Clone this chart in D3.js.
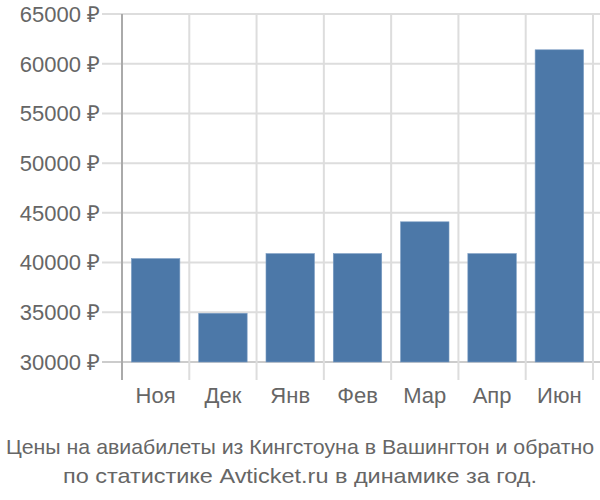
<!DOCTYPE html>
<html><head><meta charset="utf-8">
<script src="https://cdn.jsdelivr.net/npm/d3@7"></script>
<style>body{margin:0;background:#fff}</style>
</head><body>
<svg id="c" width="600" height="500"></svg>
<script>
const categories = ["Ноя","Дек","Янв","Фев","Мар","Апр","Июн"];
const values = [40400, 34900, 40900, 40900, 44100, 40900, 61400];
const yTicks = [30000,35000,40000,45000,50000,55000,60000,65000];
const titleLines = ["Цены на авиабилеты из Кингстоуна в Вашингтон и обратно","по статистике Avticket.ru в динамике за год."];

(function(){
const svg = d3.select("#c");
const pL = 122, pR = 593, pT = 14, pB = 362;
const y = d3.scaleLinear().domain([30000,65000]).range([pB, pT]);
const xg = d3.scaleBand().domain(categories).range([pL,pR]).padding(0);
const xb = d3.scaleBand().domain(categories).range([pL,pR]).paddingInner(0.28).paddingOuter(0.14);

svg.append("g").selectAll("line").data(yTicks).join("line")
  .attr("x1",102).attr("x2",600).attr("y1",d=>y(d)).attr("y2",d=>y(d))
  .attr("stroke",d=>d===30000?"#ccc":"#ddd").attr("stroke-width",2);
const vx = categories.map(c=>xg(c)).concat([pR]);
svg.append("g").selectAll("line").data(vx.slice(1)).join("line")
  .attr("x1",d=>d).attr("x2",d=>d).attr("y1",pT).attr("y2",380)
  .attr("stroke","#ddd").attr("stroke-width",2);
svg.append("line").attr("x1",pL).attr("x2",pL).attr("y1",pT).attr("y2",380)
  .attr("stroke","#aaa").attr("stroke-width",2);

svg.append("g").selectAll("rect").data(values).join("rect")
  .attr("x",(d,i)=>xb(categories[i])).attr("width",xb.bandwidth())
  .attr("y",d=>y(d)).attr("height",d=>pB-y(d))
  .attr("fill","#4c78a8").attr("stroke","#7a9cc2").attr("stroke-width",0.6);

svg.append("g").selectAll("text").data(yTicks).join("text")
  .attr("x",100).attr("y",d=>y(d)).attr("dy","0.36em").attr("text-anchor","end")
  .attr("font-family","Liberation Sans, Arial, sans-serif").attr("font-size",22).attr("fill","#666")
  .text(d=>d+" ₽");
svg.append("g").selectAll("text").data(categories).join("text")
  .attr("x",d=>xg(d)+xg.bandwidth()/2).attr("y",403).attr("text-anchor","middle")
  .attr("font-family","Liberation Sans, Arial, sans-serif").attr("font-size",22).attr("fill","#666")
  .text(d=>d);
const tl = [588, 474];
svg.append("g").selectAll("text").data(titleLines).join("text")
  .attr("x",300).attr("y",(d,i)=>454+i*29).attr("text-anchor","middle")
  .attr("textLength",(d,i)=>tl[i]).attr("lengthAdjust","spacingAndGlyphs")
  .attr("font-family","Liberation Sans Narrow, Arial Narrow, sans-serif").attr("font-size",21).attr("fill","#666")
  .text(d=>d);
})();
</script>
</body></html>
